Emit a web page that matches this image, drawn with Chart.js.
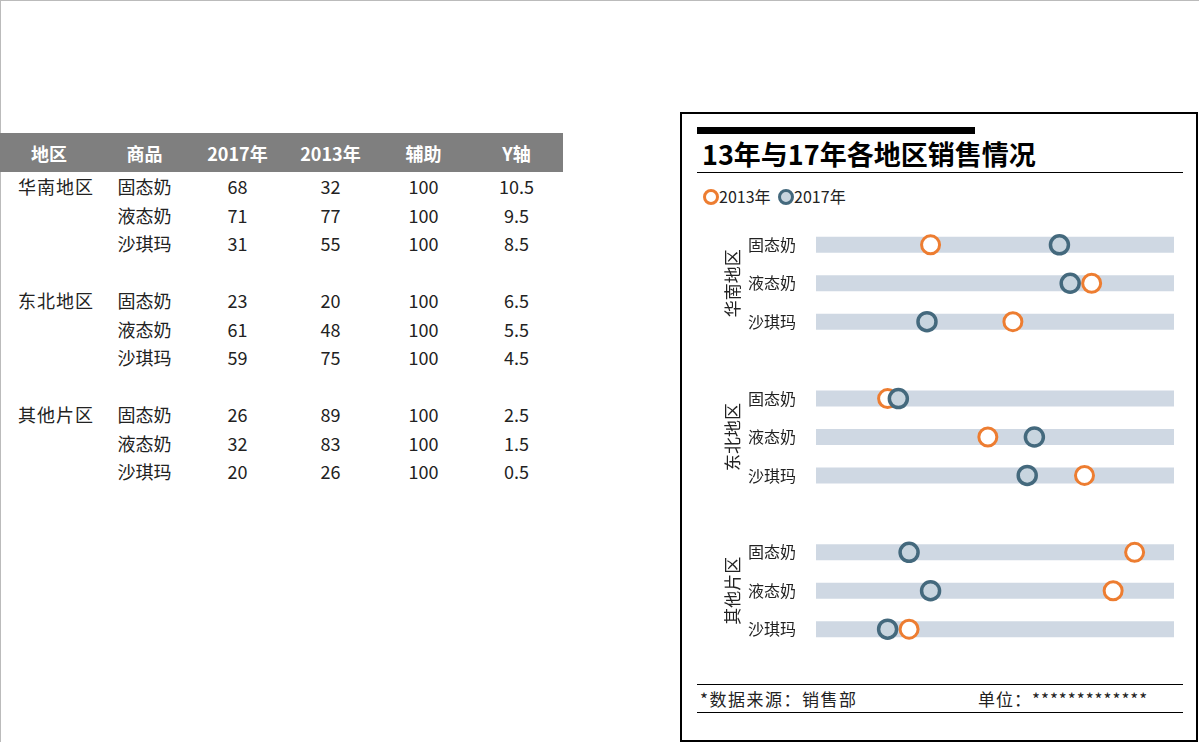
<!DOCTYPE html>
<html><head><meta charset="utf-8">
<script src="https://cdn.jsdelivr.net/npm/chart.js@4"></script>
<style>
body{margin:0;width:1200px;height:743px;position:relative;font-family:"Noto Sans CJK SC","Noto Sans",sans-serif;color:#222;background:#fff;overflow:hidden}
.frame{position:absolute;left:0;top:0;width:1198px;height:741px;border-top:1px solid #bbb;border-left:1px solid #bbb}
table{position:absolute;left:0;top:133px;border-collapse:collapse;font-size:18px}
th{background:#7f7f7f;color:#fff;height:39px;font-weight:bold;padding:0}
td{height:28.5px;padding:0;text-align:center}
td.r{text-align:left;padding-left:18px;letter-spacing:1px}
.box{position:absolute;left:680px;top:112px;width:514px;height:626px;border:2px solid #000}
.abs{position:absolute;white-space:nowrap}
</style></head><body>
<div class="frame"></div>
<table id="tbl"></table>
<div class="box"></div>
<div class="abs" style="left:697px;top:127px;width:278px;height:7px;background:#000"></div>
<div class="abs" style="left:702px;top:134px;font-size:27px;font-weight:bold;color:#000">13年与17年各地区销售情况</div>
<div class="abs" style="left:697px;top:172px;width:486px;height:1px;background:#000"></div>
<div class="abs" style="left:703px;top:184px;font-size:16px">
<span style="display:inline-block;width:10px;height:10px;border:3px solid #ED7D31;border-radius:50%;vertical-align:-2px"></span>2013年
<span style="display:inline-block;width:10px;height:10px;border:3px solid #44697d;background:#c8d5df;border-radius:50%;vertical-align:-2px;margin-left:4px"></span>2017年</div>
<div class="abs" style="left:690px;top:204px;width:500px;height:466px"><canvas id="c"></canvas></div>
<div class="abs" style="left:697px;top:684px;width:486px;height:1px;background:#000"></div>
<div class="abs" style="left:697px;top:712px;width:486px;height:1px;background:#000"></div>
<div class="abs" style="left:700px;top:686px;font-size:17px;letter-spacing:1.5px">*数据来源：销售部</div>
<div class="abs" style="left:978px;top:686px;font-size:17px;letter-spacing:1px">单位：*************</div>
<script>
const regions=["华南地区","东北地区","其他片区"];
const products=["固态奶","液态奶","沙琪玛"];
const v2017=[68,71,31,23,61,59,26,32,20];
const v2013=[32,77,55,20,48,75,89,83,26];
const helper=[100,100,100,100,100,100,100,100,100];
const yPos=[10.5,9.5,8.5,6.5,5.5,4.5,2.5,1.5,0.5];
const headers=["地区","商品","2017年","2013年","辅助","Y轴"];

let h='<tr>'+headers.map((t,i)=>`<th style="width:${i==0?98:93}px">${t}</th>`).join('')+'</tr>';
for(let r=0;r<3;r++){
  for(let p=0;p<3;p++){const i=r*3+p;
    h+=`<tr><td class="r">${p==0?regions[r]:''}</td><td>${products[p]}</td><td>${v2017[i]}</td><td>${v2013[i]}</td><td>${helper[i]}</td><td>${yPos[i]}</td></tr>`;}
  if(r<2)h+='<tr><td colspan="6"></td></tr>';
}
document.getElementById('tbl').innerHTML=h;

const bars=yPos.map((y,i)=>({type:'line',data:[{x:0,y},{x:helper[i],y}],borderColor:'#cfd8e3',borderWidth:16,borderCapStyle:'butt',pointRadius:0,order:3}));
const regionPlugin={id:'rg',afterDraw(ch){const c=ch.ctx,ys=ch.scales.y;c.save();c.font='17px "Noto Sans CJK SC"';c.fillStyle='#222';c.textAlign='center';c.textBaseline='middle';
 [9.5,5.5,1.5].forEach((y,i)=>{c.save();c.translate(43,ys.getPixelForValue(y));c.rotate(-Math.PI/2);c.fillText(regions[i],0,0);c.restore();});c.restore();}};
new Chart(document.getElementById('c'),{type:'scatter',
data:{datasets:[...bars,
 {label:'2017年',data:yPos.map((y,i)=>({x:v2017[i],y})),pointRadius:9,pointBorderWidth:3.5,pointBorderColor:'#44697d',pointBackgroundColor:'#c8d5df',order:1,clip:false},
 {label:'2013年',data:yPos.map((y,i)=>({x:v2013[i],y})),pointRadius:9,pointBorderWidth:3,pointBorderColor:'#ED7D31',pointBackgroundColor:'#fff',order:2,clip:false}]},
options:{responsive:true,maintainAspectRatio:false,animation:false,layout:{padding:{top:1.5,bottom:0,right:16,left:0}},
 plugins:{legend:{display:false},tooltip:{enabled:false}},
 scales:{x:{min:0,max:100,display:false},
  y:{min:0,max:11,grid:{display:false},border:{display:false},afterFit(a){a.width=126;},
   afterBuildTicks(a){a.ticks=yPos.map(v=>({value:v}));},
   ticks:{autoSkip:false,font:{size:16,family:'"Noto Sans CJK SC"'},color:'#222',padding:12,callback:(v)=>products[yPos.indexOf(v)%3]}}}},
plugins:[regionPlugin]});
</script></body></html>
